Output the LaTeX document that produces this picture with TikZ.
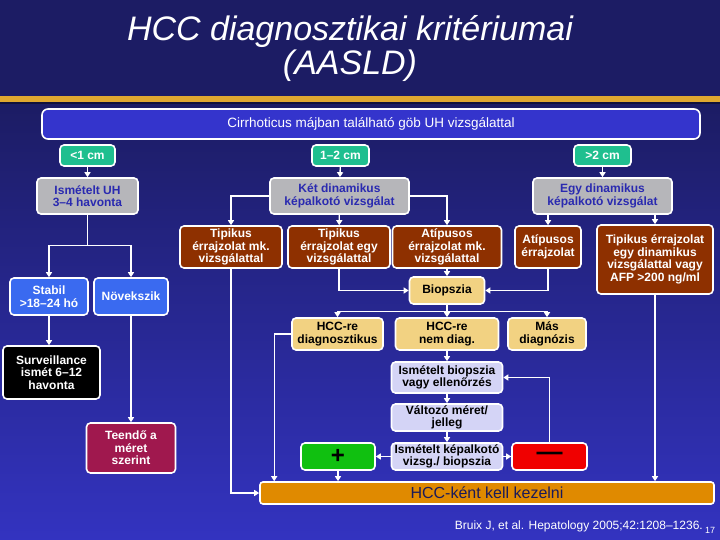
\documentclass[tikz,border=0pt]{standalone}
\usepackage{fontspec}
\setmainfont{Liberation Sans}
\usetikzlibrary{arrows.meta, positioning}
\definecolor{CNavy}{HTML}{1C1C64}
\definecolor{CBlueBg}{HTML}{3333C0}
\definecolor{CGold}{HTML}{E0A830}
\definecolor{CTop}{HTML}{3434CC}
\definecolor{CTeal}{HTML}{1FBF8F}
\definecolor{CGray}{HTML}{B6B6BA}
\definecolor{CGrayText}{HTML}{2A2AB0}
\definecolor{CBrown}{HTML}{8E3000}
\definecolor{CTrend}{HTML}{3A6AF0}
\definecolor{CBiop}{HTML}{F2D282}
\definecolor{CLav}{HTML}{D4D4F6}
\definecolor{CGreen}{HTML}{10C010}
\definecolor{CRed}{HTML}{F00000}
\definecolor{CMaroon}{HTML}{A0184E}
\definecolor{COrange}{HTML}{E08A00}
\definecolor{CTreat}{HTML}{1A1A5A}

\begin{document}
\begin{tikzpicture}[x=1pt, y=-1pt,
    box/.style={rectangle, rounded corners=4pt, draw=white, line width=1.6pt, inner sep=1pt, align=center, font=\bfseries\fontsize{12}{12.5}\selectfont},
    sizebox/.style={box, fill=CTeal, text=white, minimum height=21pt},
    exam/.style={box, fill=CGray, text=CGrayText, minimum height=36pt},
    vessel/.style={box, fill=CBrown, text=white, minimum height=42pt},
    trend/.style={box, fill=CTrend, text=white, minimum height=37pt},
    biop/.style={box, fill=CBiop, text=black},
    follow/.style={box, fill=CLav, text=black},
    arrow/.style={-{Triangle[length=5pt, width=6pt]}, line width=1.3pt, white},
]
\useasboundingbox (0,0) rectangle (720,540);

% Background
\fill[CNavy] (0,0) rectangle (720,104);
\shade[top color=CNavy, bottom color=CBlueBg] (0,104) rectangle (720,540);
\fill[CGold] (0,96) rectangle (720,102);
\fill[CNavy!60!black] (0,102) rectangle (720,104);

% Title
\node[text=white, align=center, font=\itshape\fontsize{34}{34}\selectfont] (title) at (350,49) {HCC diagnosztikai kritériumai\\(AASLD)};
\node[box, fill=CTop, text=white, rounded corners=6pt, font=\fontsize{13.5}{14}\selectfont, minimum width=658pt, minimum height=30pt] (nodule) at (371,124) {Cirrhoticus májban található göb UH vizsgálattal};

% Sizes
\node[sizebox, minimum width=55pt] (small) at (87.5,155.5) {<1 cm};
\node[sizebox, minimum width=57pt] (mid) at (340.5,155.5) {1--2 cm};
\node[sizebox, minimum width=57pt] (large) at (602.5,155.5) {>2 cm};

% Examinations
\node[exam, minimum width=101pt] (uh) at (87.5,196) {Ismételt UH\\3--4 havonta};
\node[exam, minimum width=139pt] (two) at (339.5,196) {Két dinamikus\\képalkotó vizsgálat};
\node[exam, minimum width=139pt] (one) at (602.5,196) {Egy dinamikus\\képalkotó vizsgálat};

% Vascular patterns
\node[vessel, minimum width=102pt] (typtwo) at (231,247) {Tipikus\\érrajzolat mk.\\vizsgálattal};
\node[vessel, minimum width=102pt] (typone) at (339,247) {Tipikus\\érrajzolat egy\\vizsgálattal};
\node[vessel, minimum width=109pt] (atyptwo) at (447,247) {Atípusos\\érrajzolat mk.\\vizsgálattal};
\node[vessel, minimum width=66pt] (atypone) at (548,247) {Atípusos\\érrajzolat};
\node[vessel, minimum width=116pt, minimum height=69pt] (typafp) at (655,259.5) {Tipikus érrajzolat\\egy dinamikus\\vizsgálattal vagy\\AFP >200 ng/ml};

% Follow-up of small nodules
\node[trend, minimum width=78pt] (stable) at (49,296.5) {Stabil\\>18--24 hó};
\node[trend, minimum width=74pt] (grows) at (131,296.5) {Növekszik};
\node[box, fill=black, text=white, minimum width=97pt, minimum height=53pt] (surv) at (51.5,372.5) {Surveillance\\ismét 6--12\\havonta};
\node[box, fill=CMaroon, text=white, minimum width=89pt, minimum height=50pt] (todo) at (131,448) {Teendő a\\méret\\szerint};

% Biopsy
\node[biop, minimum width=75pt, minimum height=27pt] (biopsy) at (447,290.5) {Biopszia};
\node[biop, minimum width=91pt, minimum height=32pt] (hcc) at (337.5,334) {HCC-re\\diagnosztikus};
\node[biop, minimum width=103pt, minimum height=32pt] (nohcc) at (447,334) {HCC-re\\nem diag.};
\node[biop, minimum width=78pt, minimum height=32pt] (other) at (547,334) {Más\\diagnózis};
\node[follow, minimum width=111pt, minimum height=31pt] (rebiop) at (447,377.5) {Ismételt biopszia\\vagy ellenőrzés};
\node[follow, minimum width=111pt, minimum height=27pt] (change) at (447,417.5) {Változó méret/\\jelleg};
\node[follow, minimum width=111pt, minimum height=27pt] (reimg) at (447,456.5) {Ismételt képalkotó\\vizsg./ biopszia};
\node[box, fill=CGreen, text=black, font=\bfseries\fontsize{24}{24}\selectfont, minimum width=74pt, minimum height=27pt] (pos) at (338,456.5) {+};
\node[box, fill=CRed, text=black, font=\bfseries\fontsize{26}{26}\selectfont, minimum width=75pt, minimum height=27pt] (neg) at (549.5,456.5) {—};

% Treatment
\node[box, fill=COrange, text=CTreat, rounded corners=3pt, font=\fontsize{16}{16}\selectfont, minimum width=454pt, minimum height=22pt] (treat) at (487,493) {HCC-ként kell kezelni};

% Reference
\node[anchor=base east, text=white, font=\fontsize{12}{12}\selectfont, inner sep=0pt] (ref) at (703,529) {Bruix J, et al. Hepatology 2005;42:1208--1236.};
\node[anchor=base west, text=white, font=\fontsize{9}{9}\selectfont, inner sep=0pt] (page) at (705,533) {17};

% Arrows
\draw[arrow] (small) -- (uh);
\draw[arrow] (mid) -- (two);
\draw[arrow] (large) -- (one);
\draw[arrow] (uh.south) -- ++(0,31) -| (stable.north);
\draw[arrow] (uh.south) -- ++(0,31) -| (grows.north);
\draw[arrow] (stable) -- (stable |- surv.north);
\draw[arrow] (grows) -- (todo);
\draw[arrow] (two.west) -| (typtwo.north);
\draw[arrow] (two) -- (typone);
\draw[arrow] (two.east) -| (atyptwo.north);
\draw[arrow] (one.south -| atypone) -- (atypone);
\draw[arrow] (one.south -| typafp) -- (typafp);
\draw[arrow] (typtwo.south) |- (treat.west);
\draw[arrow] (typone.south) |- (biopsy.west);
\draw[arrow] (atyptwo) -- (biopsy);
\draw[arrow] (atypone.south) |- (biopsy.east);
\draw[arrow] (typafp) -- (typafp |- treat.north);

% Biopsy results
\draw[arrow] (biopsy.south) -- ++(0,7) -| (hcc.north);
\draw[arrow] (biopsy.south) -- ++(0,7) -| (other.north);
\draw[arrow] (biopsy) -- (nohcc);
\path (hcc.west) ++(-17,0) coordinate (hccbend);
\draw[arrow] (hcc.west) -- (hccbend) -- (hccbend |- treat.north);
\draw[arrow] (nohcc) -- (rebiop);
\draw[arrow] (rebiop) -- (change);
\draw[arrow] (change) -- (reimg);
\draw[arrow] (reimg) -- (pos);
\draw[arrow] (reimg) -- (neg);
\draw[arrow] (neg.north) |- (rebiop.east);
\draw[arrow] (pos) -- (pos |- treat.north);

\end{tikzpicture}
\end{document}
